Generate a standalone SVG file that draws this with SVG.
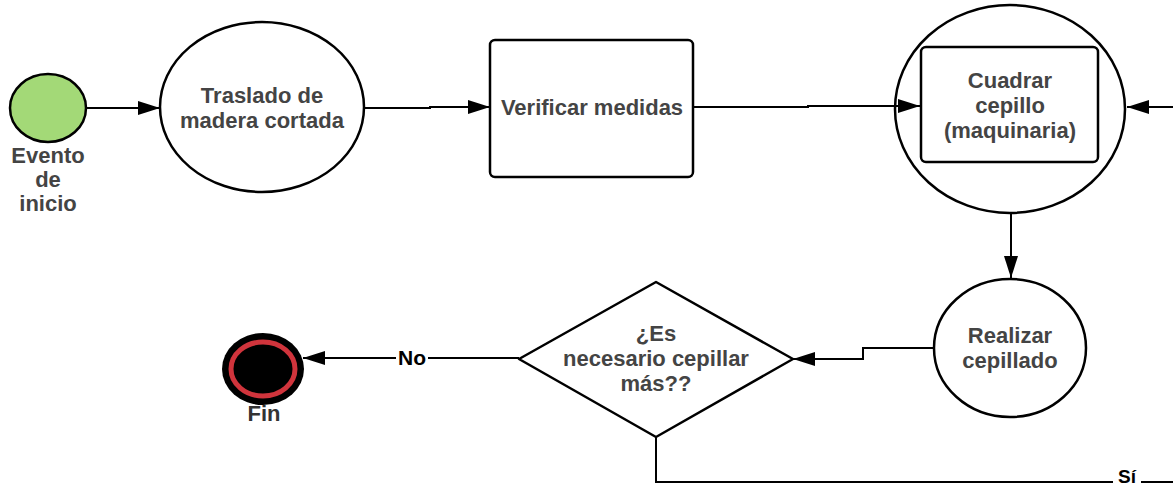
<svg xmlns="http://www.w3.org/2000/svg" width="1173" height="486" viewBox="0 0 1173 486">
<style>
.s{fill:#fff;stroke:#000;stroke-width:2.5}
.t{font-family:"Liberation Sans",Arial,sans-serif;font-weight:bold;font-size:22px;fill:#444;text-anchor:middle}
.l{font-family:"Liberation Sans",Arial,sans-serif;font-weight:bold;font-size:21px;fill:#000;text-anchor:middle}
.c{fill:none;stroke:#000;stroke-width:2}
</style>
<defs>
<marker id="a" viewBox="0 0 12 10" refX="12" refY="5" markerWidth="22" markerHeight="14" markerUnits="userSpaceOnUse" orient="auto" preserveAspectRatio="none">
<path d="M0,0L12,5L0,10Z" fill="#000"/>
</marker>
</defs>
<rect width="1173" height="486" fill="#fff"/>
<g id="inicio">
<ellipse cx="48" cy="108" rx="38" ry="34" fill="#a3d977" stroke="#000" stroke-width="2.5"/>
<text class="t" x="48" y="163">Evento</text>
<text class="t" x="48" y="187">de</text>
<text class="t" x="48" y="211">inicio</text>
</g>
<g id="traslado">
<ellipse class="s" cx="262" cy="107" rx="102" ry="85"/>
<text class="t" x="262" y="103">Traslado de</text>
<text class="t" x="262" y="128">madera cortada</text>
</g>
<g id="verificar">
<rect class="s" x="490" y="40" width="203" height="137" rx="5"/>
<text class="t" x="592" y="115">Verificar medidas</text>
</g>
<g id="cuadrar">
<ellipse class="s" cx="1010" cy="109" rx="115" ry="104"/>
<rect class="s" x="921" y="47" width="177" height="115" rx="5"/>
<text class="t" x="1010" y="88">Cuadrar</text>
<text class="t" x="1010" y="113">cepillo</text>
<text class="t" x="1010" y="138">(maquinaria)</text>
</g>
<g id="realizar">
<ellipse class="s" cx="1010" cy="348" rx="76" ry="69"/>
<text class="t" x="1010" y="343">Realizar</text>
<text class="t" x="1010" y="368">cepillado</text>
</g>
<g id="decision">
<path class="s" d="M656,282L793,359L656,437L519,359Z" stroke-linejoin="round"/>
<text class="t" x="656" y="341">¿Es</text>
<text class="t" x="656" y="366">necesario cepillar</text>
<text class="t" x="656" y="391">más??</text>
</g>
<g id="fin">
<ellipse cx="263" cy="369" rx="41" ry="36" fill="#000"/>
<ellipse cx="263" cy="369" rx="32" ry="27" fill="#000" stroke="#d0343c" stroke-width="5"/>
<text class="t" x="264" y="421" style="fill:#333">Fin</text>
</g>
<g id="connectors">
<path class="c" d="M86,108H160" marker-end="url(#a)"/>
<path class="c" d="M365,108H430V107H490" marker-end="url(#a)"/>
<path class="c" d="M693,107H808V106H920" marker-end="url(#a)"/>
<path class="c" d="M1173,107H1127" marker-end="url(#a)"/>
<path class="c" d="M1011,213V278" marker-end="url(#a)"/>
<path class="c" d="M934,348H863V359H793" marker-end="url(#a)"/>
<path class="c" d="M519,358H303" marker-end="url(#a)"/>
<path class="c" d="M656,437V482H1173"/>
<rect x="396" y="347" width="32" height="20" fill="#fff"/>
<text class="l" x="412" y="365">No</text>
<rect x="1113" y="469" width="28" height="17" fill="#fff"/>
<text class="l" x="1127" y="483" style="font-size:19px">Sí</text>
</g>
</svg>
